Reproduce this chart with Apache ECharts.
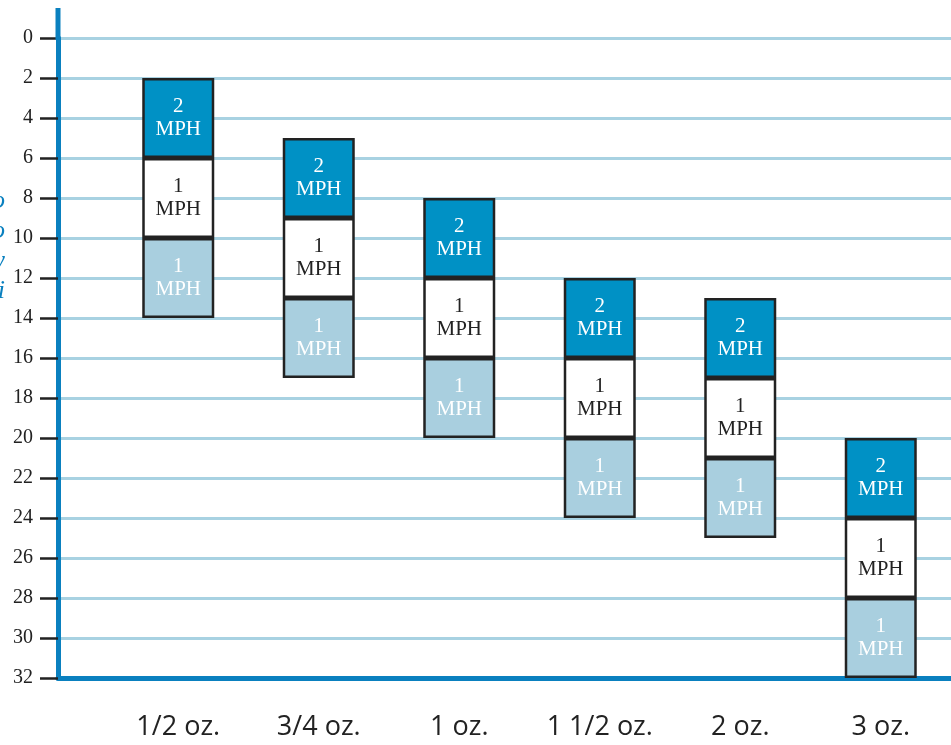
<!DOCTYPE html>
<html>
<head>
<meta charset="utf-8">
<script src="https://cdn.jsdelivr.net/npm/echarts@6/dist/echarts.min.js"></script>
<style>html,body{margin:0;padding:0;background:#fff}#c{width:951px;height:745px}</style>
</head>
<body>
<div id="c"></div>
<script>
const categories = ['1/2 oz.', '3/4 oz.', '1 oz.', '1 1/2 oz.', '2 oz.', '3 oz.'];
const startDepth = [2, 5, 8, 12, 13, 20];
const fast2mph = [4, 4, 4, 4, 4, 4];
const mid1mph = [4, 4, 4, 4, 4, 4];
const slow1mph = [4, 4, 4, 4, 4, 4];
const yTicks = [0, 2, 4, 6, 8, 10, 12, 14, 16, 18, 20, 22, 24, 26, 28, 30, 32];

const chart = echarts.init(document.getElementById('c'));
const AXIS_BLUE = '#0a80bf';
const SERIF = '"Liberation Serif", "DejaVu Serif", serif';
const segLabel = (txt, color) => ({
  show: true, position: 'inside', formatter: txt, color: color,
  fontFamily: SERIF, fontSize: 21, lineHeight: 23
});
const segStyle = (fill) => ({ color: fill, borderColor: '#222', borderWidth: 2.5 });

chart.setOption({
  animation: false,
  grid: [
    { left: 58, right: 0, top: 38, bottom: 67 },
    { left: 108, right: -14, top: 38, bottom: 67 }
  ],
  xAxis: [
    { gridIndex: 0, type: 'category', data: categories, axisLine: { show: true, onZero: false, lineStyle: { color: AXIS_BLUE, width: 5 } },
      axisTick: { show: false }, axisLabel: { show: false }, splitLine: { show: false } },
    { gridIndex: 1, type: 'category', data: categories, axisLine: { show: false }, axisTick: { show: false },
      axisLabel: { color: '#222', fontFamily: '"Liberation Sans Narrow", "Open Sans", sans-serif', fontSize: 27, margin: 36 } }
  ],
  yAxis: [
    { gridIndex: 0, type: 'value', inverse: true, min: 0, max: 32, interval: 2,
      axisLine: { show: true, lineStyle: { color: AXIS_BLUE, width: 5 } },
      axisTick: { show: true, length: 18, lineStyle: { color: '#222', width: 2.5 } },
      axisLabel: { color: '#222', fontFamily: SERIF, fontSize: 20, margin: 25, customValues: yTicks },
      splitLine: { show: true, lineStyle: { color: '#a8d2e2', width: 3 } } },
    { gridIndex: 1, type: 'value', inverse: true, min: 0, max: 32, show: false }
  ],
  graphic: [
    { type: 'rect', shape: { x: 55.5, y: 8, width: 5, height: 32 }, style: { fill: AXIS_BLUE }, z: 10 },
    { type: 'text', x: 5, y: 186, z: 10,
      style: { text: 'Depth to\nsink to\nbelow w\nsurface i', fill: AXIS_BLUE,
        font: 'italic 26px "Liberation Serif"', lineHeight: 30, align: 'right', textAlign: 'right',
        verticalAlign: 'top', textVerticalAlign: 'top' } }
  ],
  series: [
    { type: 'bar', xAxisIndex: 1, yAxisIndex: 1, stack: 'd', data: startDepth, barWidth: 72,
      itemStyle: { color: 'transparent' }, silent: true },
    { type: 'bar', name: '2 MPH', xAxisIndex: 1, yAxisIndex: 1, stack: 'd', data: fast2mph, barWidth: 72,
      itemStyle: segStyle('#0091c5'), label: segLabel('2\nMPH', '#fff') },
    { type: 'bar', name: '1 MPH', xAxisIndex: 1, yAxisIndex: 1, stack: 'd', data: mid1mph, barWidth: 72,
      itemStyle: segStyle('#ffffff'), label: segLabel('1\nMPH', '#222') },
    { type: 'bar', name: '1 MPH slow', xAxisIndex: 1, yAxisIndex: 1, stack: 'd', data: slow1mph, barWidth: 72,
      itemStyle: segStyle('#a9cfdf'), label: segLabel('1\nMPH', '#fff') }
  ]
});
</script>
</body>
</html>
